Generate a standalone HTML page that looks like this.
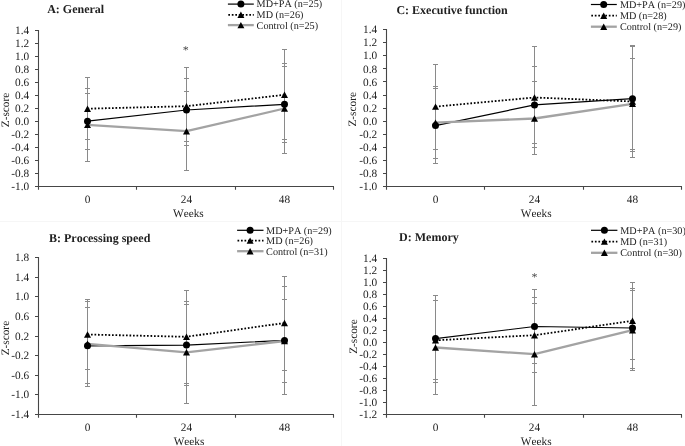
<!DOCTYPE html>
<html><head><meta charset="utf-8"><title>Figure</title>
<style>html,body{margin:0;padding:0;background:#fff;width:685px;height:446px;overflow:hidden}svg{display:block;will-change:transform}
text{font-family:"Liberation Serif",serif;text-rendering:geometricPrecision;font-kerning:none}</style></head>
<body>
<svg width="685" height="446" viewBox="0 0 685 446" font-family="'Liberation Serif', serif" font-size="11.3" fill="#222">
<rect width="685" height="446" fill="#fff"/>
<path d="M341.5 0V446M0 221.5H685" stroke="#f6f6f6" stroke-width="1"/>
<path d="M38.5 30V186.5M35 30.5H38.5M35 43.5H38.5M35 56.5H38.5M35 69.5H38.5M35 82.5H38.5M35 95.5H38.5M35 108.5H38.5M35 121.5H38.5M35 134.5H38.5M35 147.5H38.5M35 160.5H38.5M35 173.5H38.5M35 186.5H38.5M38.5 186.5H334M38.5 186.5V189.8M136.5 186.5V189.8M235.5 186.5V189.8M333.5 186.5V189.8" stroke="#464646" stroke-width="1.1" fill="none"/>
<text x="29.2" y="34.4" text-anchor="end">1.4</text>
<text x="29.2" y="47.38" text-anchor="end">1.2</text>
<text x="29.2" y="60.35" text-anchor="end">1.0</text>
<text x="29.2" y="73.32" text-anchor="end">0.8</text>
<text x="29.2" y="86.3" text-anchor="end">0.6</text>
<text x="29.2" y="99.27" text-anchor="end">0.4</text>
<text x="29.2" y="112.25" text-anchor="end">0.2</text>
<text x="29.2" y="125.22" text-anchor="end">0.0</text>
<text x="29.2" y="138.2" text-anchor="end">-0.2</text>
<text x="29.2" y="151.17" text-anchor="end">-0.4</text>
<text x="29.2" y="164.15" text-anchor="end">-0.6</text>
<text x="29.2" y="177.12" text-anchor="end">-0.8</text>
<text x="29.2" y="190.1" text-anchor="end">-1.0</text>
<text x="87.5" y="203" text-anchor="middle">0</text>
<text x="186.5" y="203" text-anchor="middle">24</text>
<text x="284.5" y="203" text-anchor="middle">48</text>
<text x="188.4" y="217" text-anchor="middle">Weeks</text>
<text transform="translate(9 110) rotate(-90)" x="0" y="0" text-anchor="middle">Z-score</text>
<text x="47.2" y="13.3" font-weight="bold" font-size="12">A: General</text>
<path d="M87.5 77.5V139.5M85 77.5H90M85 139.5H90M87.5 88.5V161.5M85 88.5H90M85 161.5H90M87.5 93.5V149.5M85 93.5H90M85 149.5H90M186.5 91.5V170.5M184 91.5H189M184 170.5H189M186.5 67.5V145.5M184 67.5H189M184 145.5H189M186.5 78.5V141.5M184 78.5H189M184 141.5H189M284.5 49.5V139.5M282 49.5H287M282 139.5H287M284.5 66.5V142.5M282 66.5H287M282 142.5H287M284.5 63.5V153.5M282 63.5H287M282 153.5H287" stroke="#8a8a8a" stroke-width="1" fill="none"/>
<polyline points="87.5,121.2 186.5,110 284.5,104.3" stroke="#000" stroke-width="1.2" fill="none"/>
<polyline points="87.5,108.7 186.5,106.2 284.5,94.8" stroke="#000" stroke-width="1.8" fill="none" stroke-dasharray="1.7 1.8"/>
<polyline points="87.5,124.9 186.5,131.2 284.5,108.5" stroke="#a3a3a3" stroke-width="2.3" fill="none" stroke-linejoin="round"/>
<g fill="#000"><path d="M87.5 121.7L91 128.1L84 128.1Z"/><path d="M186.5 128L190 134.4L183 134.4Z"/><path d="M284.5 105.3L288 111.7L281 111.7Z"/><path d="M87.5 105.5L91 111.9L84 111.9Z"/><path d="M186.5 103L190 109.4L183 109.4Z"/><path d="M284.5 91.6L288 98L281 98Z"/><circle cx="87.5" cy="121.2" r="3.5"/><circle cx="186.5" cy="110" r="3.5"/><circle cx="284.5" cy="104.3" r="3.5"/></g>
<path d="M227.9 4.1H253.8" stroke="#000" stroke-width="1.2"/>
<path d="M228.3 14.8H253.8" stroke="#000" stroke-width="1.8" stroke-dasharray="1.7 1.8"/>
<path d="M227.9 25.1H253.8" stroke="#a3a3a3" stroke-width="2.3"/>
<g fill="#000"><circle cx="240.9" cy="4.1" r="3.5"/><path d="M240.9 11.6L244.4 18L237.4 18Z"/><path d="M240.9 21.9L244.4 28.3L237.4 28.3Z"/></g>
<text x="256.6" y="6.9" font-size="10.2">MD+PA (n=25)</text>
<text x="256.6" y="18" font-size="10.2">MD (n=26)</text>
<text x="256.6" y="28.6" font-size="10.2">Control (n=25)</text>
<text x="185.7" y="53.8" text-anchor="middle" font-size="12" fill="#444">*</text>
<path d="M38.5 257V414.5M35 257.5H38.5M35 277.5H38.5M35 296.5H38.5M35 316.5H38.5M35 336.5H38.5M35 355.5H38.5M35 375.5H38.5M35 394.5H38.5M35 414.5H38.5M38.5 414.5H334M38.5 414.5V417.8M136.5 414.5V417.8M235.5 414.5V417.8M333.5 414.5V417.8" stroke="#464646" stroke-width="1.1" fill="none"/>
<text x="29.2" y="261.2" text-anchor="end">1.8</text>
<text x="29.2" y="280.81" text-anchor="end">1.4</text>
<text x="29.2" y="300.43" text-anchor="end">1.0</text>
<text x="29.2" y="320.04" text-anchor="end">0.6</text>
<text x="29.2" y="339.65" text-anchor="end">0.2</text>
<text x="29.2" y="359.26" text-anchor="end">-0.2</text>
<text x="29.2" y="378.88" text-anchor="end">-0.6</text>
<text x="29.2" y="398.49" text-anchor="end">-1.0</text>
<text x="29.2" y="418.1" text-anchor="end">-1.4</text>
<text x="87.5" y="431" text-anchor="middle">0</text>
<text x="186.5" y="431" text-anchor="middle">24</text>
<text x="284.5" y="431" text-anchor="middle">48</text>
<text x="189" y="444.6" text-anchor="middle">Weeks</text>
<text transform="translate(8.6 338.1) rotate(-90)" x="0" y="0" text-anchor="middle">Z-score</text>
<text x="49" y="242" font-weight="bold" font-size="12">B: Processing speed</text>
<path d="M87.5 299.5V369.5M85 299.5H90M85 369.5H90M87.5 301.5V386.5M85 301.5H90M85 386.5H90M87.5 307.5V383.5M85 307.5H90M85 383.5H90M186.5 301.5V403.5M184 301.5H189M184 403.5H189M186.5 290.5V383.5M184 290.5H189M184 383.5H189M186.5 304.5V385.5M184 304.5H189M184 385.5H189M284.5 276.5V370.5M282 276.5H287M282 370.5H287M284.5 286.5V394.5M282 286.5H287M282 394.5H287M284.5 299.5V382.5M282 299.5H287M282 382.5H287" stroke="#8a8a8a" stroke-width="1" fill="none"/>
<polyline points="87.5,345.8 186.5,345.1 284.5,340.4" stroke="#000" stroke-width="1.2" fill="none"/>
<polyline points="87.5,334.5 186.5,336.8 284.5,323" stroke="#000" stroke-width="1.8" fill="none" stroke-dasharray="1.7 1.8"/>
<polyline points="87.5,343.8 186.5,352.3 284.5,341" stroke="#a3a3a3" stroke-width="2.3" fill="none" stroke-linejoin="round"/>
<g fill="#000"><path d="M87.5 340.6L91 347L84 347Z"/><path d="M186.5 349.1L190 355.5L183 355.5Z"/><path d="M284.5 337.8L288 344.2L281 344.2Z"/><path d="M87.5 331.3L91 337.7L84 337.7Z"/><path d="M186.5 333.6L190 340L183 340Z"/><path d="M284.5 319.8L288 326.2L281 326.2Z"/><circle cx="87.5" cy="345.8" r="3.5"/><circle cx="186.5" cy="345.1" r="3.5"/><circle cx="284.5" cy="340.4" r="3.5"/></g>
<path d="M237.1 230.3H263.5" stroke="#000" stroke-width="1.2"/>
<path d="M237.5 240.6H263.5" stroke="#000" stroke-width="1.8" stroke-dasharray="1.7 1.8"/>
<path d="M237.1 251.2H263.5" stroke="#a3a3a3" stroke-width="2.3"/>
<g fill="#000"><circle cx="250.1" cy="230.3" r="3.5"/><path d="M250.1 237.4L253.6 243.8L246.6 243.8Z"/><path d="M250.1 248L253.6 254.4L246.6 254.4Z"/></g>
<text x="266.1" y="233.7" font-size="10.2">MD+PA (n=29)</text>
<text x="266.1" y="244" font-size="10.2">MD (n=26)</text>
<text x="266.1" y="254.6" font-size="10.2">Control (n=31)</text>
<path d="M386.5 29V186.5M383 29.5H386.5M383 42.5H386.5M383 55.5H386.5M383 68.5H386.5M383 81.5H386.5M383 95.5H386.5M383 108.5H386.5M383 121.5H386.5M383 134.5H386.5M383 147.5H386.5M383 160.5H386.5M383 173.5H386.5M383 186.5H386.5M386.5 186.5H682M386.5 186.5V189.8M484.5 186.5V189.8M583.5 186.5V189.8M681.5 186.5V189.8" stroke="#464646" stroke-width="1.1" fill="none"/>
<text x="377.2" y="33.3" text-anchor="end">1.4</text>
<text x="377.2" y="46.37" text-anchor="end">1.2</text>
<text x="377.2" y="59.43" text-anchor="end">1.0</text>
<text x="377.2" y="72.5" text-anchor="end">0.8</text>
<text x="377.2" y="85.57" text-anchor="end">0.6</text>
<text x="377.2" y="98.63" text-anchor="end">0.4</text>
<text x="377.2" y="111.7" text-anchor="end">0.2</text>
<text x="377.2" y="124.77" text-anchor="end">0.0</text>
<text x="377.2" y="137.83" text-anchor="end">-0.2</text>
<text x="377.2" y="150.9" text-anchor="end">-0.4</text>
<text x="377.2" y="163.97" text-anchor="end">-0.6</text>
<text x="377.2" y="177.03" text-anchor="end">-0.8</text>
<text x="377.2" y="190.1" text-anchor="end">-1.0</text>
<text x="435.5" y="203" text-anchor="middle">0</text>
<text x="534.5" y="203" text-anchor="middle">24</text>
<text x="632.5" y="203" text-anchor="middle">48</text>
<text x="536.2" y="217" text-anchor="middle">Weeks</text>
<text transform="translate(356 109.3) rotate(-90)" x="0" y="0" text-anchor="middle">Z-score</text>
<text x="396.4" y="14.2" font-weight="bold" font-size="12">C: Executive function</text>
<path d="M435.5 64.5V149.5M433 64.5H438M433 149.5H438M435.5 88.5V158.5M433 88.5H438M433 158.5H438M435.5 86.5V163.5M433 86.5H438M433 163.5H438M534.5 46.5V147.5M532 46.5H537M532 147.5H537M534.5 66.5V143.5M532 66.5H537M532 143.5H537M534.5 81.5V154.5M532 81.5H537M532 154.5H537M632.5 46.5V151.5M630 46.5H635M630 151.5H635M632.5 45.5V157.5M630 45.5H635M630 157.5H635M632.5 58.5V149.5M630 58.5H635M630 149.5H635" stroke="#8a8a8a" stroke-width="1" fill="none"/>
<polyline points="435.5,125.6 534.5,104.9 632.5,98.7" stroke="#000" stroke-width="1.2" fill="none"/>
<polyline points="435.5,106.6 534.5,97.5 632.5,101.5" stroke="#000" stroke-width="1.8" fill="none" stroke-dasharray="1.7 1.8"/>
<polyline points="435.5,122.6 534.5,118.5 632.5,103.8" stroke="#a3a3a3" stroke-width="2.3" fill="none" stroke-linejoin="round"/>
<g fill="#000"><path d="M435.5 119.4L439 125.8L432 125.8Z"/><path d="M534.5 115.3L538 121.7L531 121.7Z"/><path d="M632.5 100.6L636 107L629 107Z"/><path d="M435.5 103.4L439 109.8L432 109.8Z"/><path d="M534.5 94.3L538 100.7L531 100.7Z"/><path d="M632.5 98.3L636 104.7L629 104.7Z"/><circle cx="435.5" cy="125.6" r="3.5"/><circle cx="534.5" cy="104.9" r="3.5"/><circle cx="632.5" cy="98.7" r="3.5"/></g>
<path d="M590.9 4.5H616.8" stroke="#000" stroke-width="1.2"/>
<path d="M591.3 15.7H616.8" stroke="#000" stroke-width="1.8" stroke-dasharray="1.7 1.8"/>
<path d="M590.9 26.7H616.8" stroke="#a3a3a3" stroke-width="2.3"/>
<g fill="#000"><circle cx="603.7" cy="4.5" r="3.5"/><path d="M603.7 12.5L607.2 18.9L600.2 18.9Z"/><path d="M603.7 23.5L607.2 29.9L600.2 29.9Z"/></g>
<text x="619.9" y="7.9" font-size="10.2">MD+PA (n=29)</text>
<text x="619.9" y="19.1" font-size="10.2">MD (n=28)</text>
<text x="619.9" y="30.1" font-size="10.2">Control (n=29)</text>
<path d="M386.5 258V414.5M383 258.5H386.5M383 270.5H386.5M383 282.5H386.5M383 294.5H386.5M383 306.5H386.5M383 318.5H386.5M383 330.5H386.5M383 342.5H386.5M383 354.5H386.5M383 366.5H386.5M383 378.5H386.5M383 390.5H386.5M383 402.5H386.5M383 414.5H386.5M386.5 414.5H682M386.5 414.5V417.8M484.5 414.5V417.8M583.5 414.5V417.8M681.5 414.5V417.8" stroke="#464646" stroke-width="1.1" fill="none"/>
<text x="377.2" y="262.4" text-anchor="end">1.4</text>
<text x="377.2" y="274.38" text-anchor="end">1.2</text>
<text x="377.2" y="286.35" text-anchor="end">1.0</text>
<text x="377.2" y="298.33" text-anchor="end">0.8</text>
<text x="377.2" y="310.31" text-anchor="end">0.6</text>
<text x="377.2" y="322.28" text-anchor="end">0.4</text>
<text x="377.2" y="334.26" text-anchor="end">0.2</text>
<text x="377.2" y="346.24" text-anchor="end">0.0</text>
<text x="377.2" y="358.22" text-anchor="end">-0.2</text>
<text x="377.2" y="370.19" text-anchor="end">-0.4</text>
<text x="377.2" y="382.17" text-anchor="end">-0.6</text>
<text x="377.2" y="394.15" text-anchor="end">-0.8</text>
<text x="377.2" y="406.12" text-anchor="end">-1.0</text>
<text x="377.2" y="418.1" text-anchor="end">-1.2</text>
<text x="435.5" y="431" text-anchor="middle">0</text>
<text x="534.5" y="431" text-anchor="middle">24</text>
<text x="632.5" y="431" text-anchor="middle">48</text>
<text x="536.2" y="444.8" text-anchor="middle">Weeks</text>
<text transform="translate(357 336.6) rotate(-90)" x="0" y="0" text-anchor="middle">Z-score</text>
<text x="399.1" y="241.4" font-weight="bold" font-size="12">D: Memory</text>
<path d="M435.5 295.5V382.5M433 295.5H438M433 382.5H438M435.5 300.5V379.5M433 300.5H438M433 379.5H438M435.5 300.5V394.5M433 300.5H438M433 394.5H438M534.5 289.5V363.5M532 289.5H537M532 363.5H537M534.5 297.5V372.5M532 297.5H537M532 372.5H537M534.5 303.5V405.5M532 303.5H537M532 405.5H537M632.5 282.5V359.5M630 282.5H635M630 359.5H635M632.5 288.5V368.5M630 288.5H635M630 368.5H635M632.5 290.5V370.5M630 290.5H635M630 370.5H635" stroke="#8a8a8a" stroke-width="1" fill="none"/>
<polyline points="435.5,338.6 534.5,326.5 632.5,328" stroke="#000" stroke-width="1.2" fill="none"/>
<polyline points="435.5,340.3 534.5,335.2 632.5,320.8" stroke="#000" stroke-width="1.8" fill="none" stroke-dasharray="1.7 1.8"/>
<polyline points="435.5,347.5 534.5,354.2 632.5,330.2" stroke="#a3a3a3" stroke-width="2.3" fill="none" stroke-linejoin="round"/>
<g fill="#000"><path d="M435.5 344.3L439 350.7L432 350.7Z"/><path d="M534.5 351L538 357.4L531 357.4Z"/><path d="M632.5 327L636 333.4L629 333.4Z"/><path d="M435.5 337.1L439 343.5L432 343.5Z"/><path d="M534.5 332L538 338.4L531 338.4Z"/><path d="M632.5 317.6L636 324L629 324Z"/><circle cx="435.5" cy="338.6" r="3.5"/><circle cx="534.5" cy="326.5" r="3.5"/><circle cx="632.5" cy="328" r="3.5"/></g>
<path d="M591 230.3H617.4" stroke="#000" stroke-width="1.2"/>
<path d="M591.4 241.6H617.4" stroke="#000" stroke-width="1.8" stroke-dasharray="1.7 1.8"/>
<path d="M591 252.8H617.4" stroke="#a3a3a3" stroke-width="2.3"/>
<g fill="#000"><circle cx="604.4" cy="230.3" r="3.5"/><path d="M604.4 238.4L607.9 244.8L600.9 244.8Z"/><path d="M604.4 249.6L607.9 256L600.9 256Z"/></g>
<text x="620.3" y="233.7" font-size="10.2">MD+PA (n=30)</text>
<text x="620.3" y="245" font-size="10.2">MD (n=31)</text>
<text x="620.3" y="256.2" font-size="10.2">Control (n=30)</text>
<text x="534.6" y="280.7" text-anchor="middle" font-size="12" fill="#444">*</text>
</svg>
</body></html>
